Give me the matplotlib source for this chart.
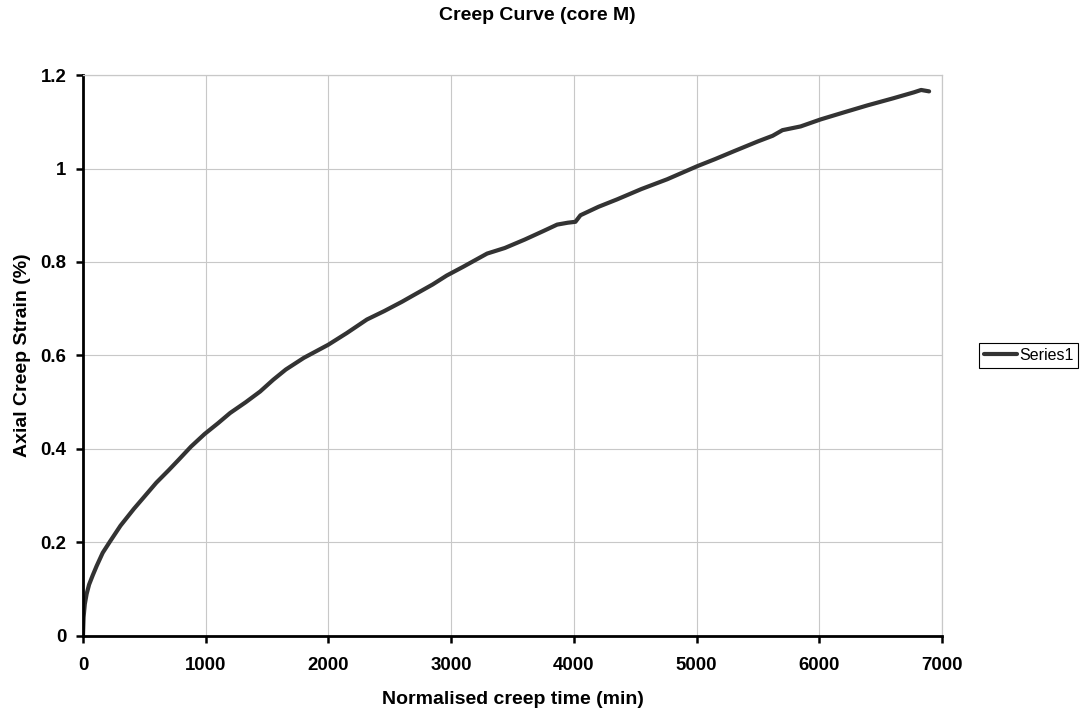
import numpy as np
import matplotlib
matplotlib.use("Agg")
from matplotlib import pyplot as plt
from matplotlib.ticker import FormatStrFormatter, MultipleLocator

plt.rcParams['font.family'] = ['Liberation Sans', 'DejaVu Sans']

# creep test readings: normalised time (min) vs axial strain (%)
creep_time = [0, 5, 15, 30, 50, 80, 112, 161, 220, 306, 415, 500, 598, 700, 780,
              880, 991, 1100, 1199, 1326, 1444, 1550, 1653, 1800, 1999, 2150,
              2314, 2455, 2600, 2694, 2850, 2964, 3100, 3293, 3438, 3600, 3750,
              3864, 3950, 4013, 4054, 4200, 4353, 4550, 4761, 5006, 5150, 5305,
              5500, 5620, 5700, 5848, 6011, 6200, 6392, 6600, 6772, 6830, 6895]
axial_strain = [0, 0.04, 0.068, 0.09, 0.11, 0.13, 0.15, 0.178, 0.202, 0.236,
                0.272, 0.298, 0.328, 0.355, 0.377, 0.405, 0.432, 0.455, 0.477, 0.5,
                0.523, 0.548, 0.57, 0.595, 0.623, 0.648, 0.677, 0.695, 0.715, 0.729,
                0.752, 0.771, 0.79, 0.818, 0.83, 0.848, 0.866, 0.88, 0.884, 0.886,
                0.9, 0.918, 0.934, 0.956, 0.977, 1.005, 1.02, 1.037, 1.058, 1.07,
                1.082, 1.09, 1.105, 1.12, 1.135, 1.15, 1.163, 1.168, 1.165]

x_ticks = [0, 1000, 2000, 3000, 4000, 5000, 6000, 7000]
y_ticks = [0, 0.2, 0.4, 0.6, 0.8, 1.0, 1.2]

fig = plt.figure(figsize=(10.83, 7.15), dpi=100)
ax = fig.add_axes([0.0766, 0.1105, 0.7932, 0.7846])

ax.plot(creep_time, axial_strain, color='#333333', linewidth=3.0,
        solid_capstyle='round', solid_joinstyle='round', label='Series1')

ax.set_xlim(0, 7000)
ax.set_ylim(0, 1.2)
ax.set_xticks(x_ticks)
ax.set_yticks(y_ticks)
ax.yaxis.set_major_formatter(FormatStrFormatter('%g'))

ax.grid(True, color='#c8c8c8', linewidth=0.8)
ax.set_axisbelow(True)

for side in ['left', 'bottom']:
    ax.spines[side].set_color('black')
    ax.spines[side].set_linewidth(2.0)
for side in ['top', 'right']:
    ax.spines[side].set_color('#c8c8c8')
    ax.spines[side].set_linewidth(0.9)

ax.tick_params(axis='both', direction='out', length=5, width=1.8, color='black',
               labelsize=13.4)
ax.tick_params(axis='x', pad=10)
ax.tick_params(axis='y', pad=7)
for lbl in ax.get_xticklabels() + ax.get_yticklabels():
    lbl.set_fontweight('bold')

ax.set_xlabel('Normalised creep time (min)', fontsize=14, fontweight='bold')
ax.set_ylabel('Axial Creep Strain (%)', fontsize=14, fontweight='bold')
ax.xaxis.set_label_coords(0.5, -0.098)
ax.yaxis.set_label_coords(-0.061, 0.5)

fig.suptitle('Creep Curve (core M)', x=0.496, y=0.979, va='center',
             fontsize=14, fontweight='bold')

leg = ax.legend(loc='center left', bbox_to_anchor=(0.904, 0.503),
                bbox_transform=fig.transFigure, fontsize=11.5, frameon=True,
                fancybox=False, edgecolor='black', framealpha=1,
                handlelength=2.1, handletextpad=0.1, borderpad=0.3,
                borderaxespad=0)
leg.get_frame().set_linewidth(0.8)

fig.savefig('out.png', dpi=100)
